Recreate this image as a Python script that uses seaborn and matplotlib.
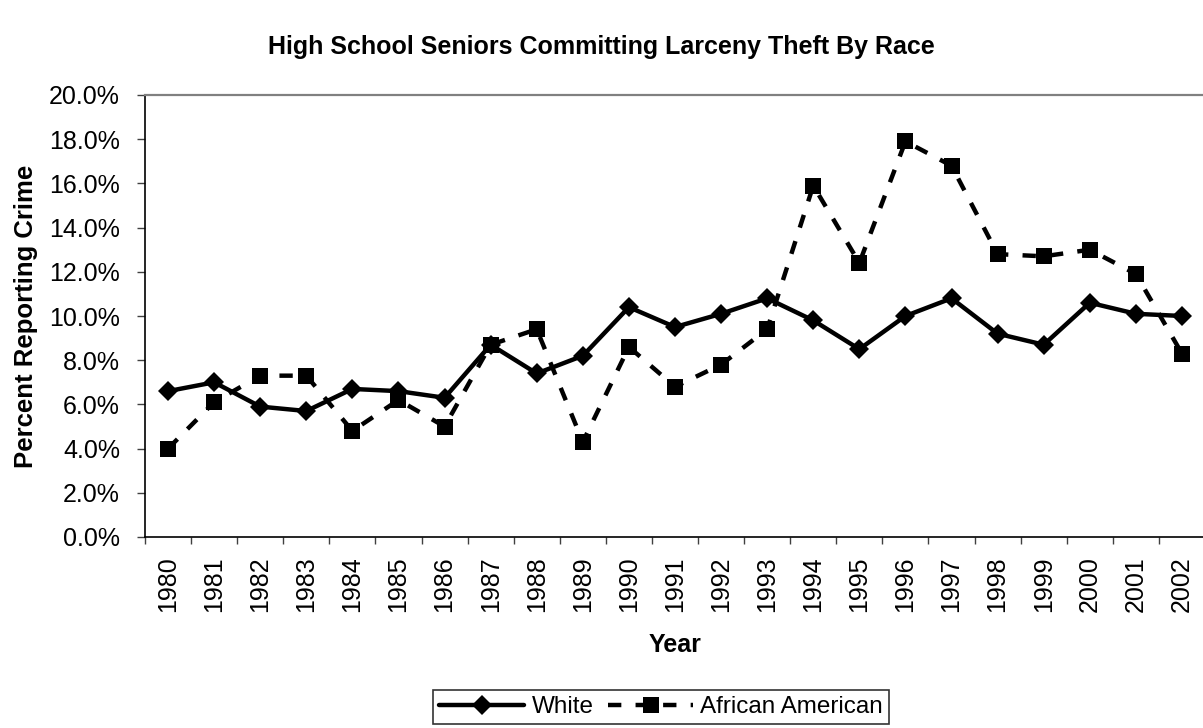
import pandas as pd
import numpy as np
import matplotlib
matplotlib.use('Agg')
import matplotlib.pyplot as plt
import seaborn as sns
from matplotlib.ticker import PercentFormatter, MultipleLocator, FixedLocator

# datos (fraccion, no %)
years = list(range(1980, 2003))
white = [0.066, 0.070, 0.059, 0.057, 0.067, 0.066, 0.063, 0.087, 0.074, 0.082,
         0.104, 0.095, 0.101, 0.108, 0.098, 0.085, 0.100, 0.108, 0.092, 0.087,
         0.106, 0.101, 0.100]
african_american = [0.040, 0.061, 0.073, 0.073, 0.048, 0.062, 0.050, 0.087, 0.094, 0.043,
                    0.086, 0.068, 0.078, 0.094, 0.159, 0.124, 0.179, 0.168, 0.128, 0.127,
                    0.130, 0.119, 0.083]

df = pd.DataFrame({'Year': years, 'White': white, 'African American': african_american})

sns.set_style('white')
plt.rcParams['font.family'] = ['Liberation Sans', 'DejaVu Sans']
plt.rcParams['text.color'] = 'black'
plt.rcParams['xtick.color'] = 'black'
plt.rcParams['ytick.color'] = 'black'
plt.rcParams['axes.labelcolor'] = 'black'

fs = 18

fig = plt.figure(figsize=(12.03, 7.28), dpi=100)
ax = fig.add_axes([145 / 1203, (728 - 537) / 728, (1205 - 145) / 1203, (537 - 95) / 728])

sns.lineplot(ax=ax, data=df, x='Year', y='White', color='black', linewidth=3.2,
             marker='D', markersize=10, markeredgewidth=0, label='White')
sns.lineplot(ax=ax, data=df, x='Year', y='African American', color='black', linewidth=3.2,
             marker='s', markersize=12, markeredgewidth=0, dashes=(3, 3.2),
             label='African American')

ax.set_xlim(1979.5, 2002.5)
ax.set_ylim(0, 0.20)
ax.yaxis.set_major_locator(MultipleLocator(0.02))
ax.yaxis.set_major_formatter(PercentFormatter(1, decimals=1))
ax.set_xticks(years)
ax.set_xticklabels([str(y) for y in years], rotation=90)
ax.xaxis.set_minor_locator(FixedLocator(np.arange(1979.5, 2003, 1)))
ax.tick_params(axis='x', which='major', length=0, pad=14, labelsize=fs)
ax.tick_params(axis='x', which='minor', length=5, width=1, color='#404040', direction='out', bottom=True)
ax.tick_params(axis='y', length=6, width=1, color='#404040', direction='out', left=True,
               labelsize=fs, pad=12)

for s in ['left', 'bottom']:
    ax.spines[s].set_color('black')
    ax.spines[s].set_linewidth(1.2)
ax.spines['top'].set_color('#808080')
ax.spines['top'].set_linewidth(1.6)
ax.spines['right'].set_visible(False)
ax.grid(False)

ax.set_xlabel('Year', fontsize=fs, fontweight='bold', labelpad=15)
ax.set_ylabel('Percent Reporting Crime', fontsize=18.5, fontweight='bold', labelpad=8)
fig.text(0.5, 0.935, 'High School Seniors Committing Larceny Theft By Race',
         ha='center', va='center', fontsize=fs, fontweight='bold')

leg = ax.legend(loc='upper center', bbox_to_anchor=(0.487, -0.346), ncol=2,
                fontsize=17.5, frameon=True, fancybox=False, handlelength=3.5,
                columnspacing=0.6, handletextpad=0.3, borderpad=0.25, borderaxespad=0)
leg.get_frame().set_edgecolor('black')
leg.get_frame().set_linewidth(1.2)

fig.savefig('out.png', dpi=100)
